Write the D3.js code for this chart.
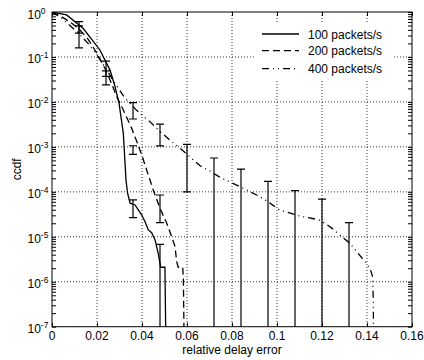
<!DOCTYPE html>
<html>
<head>
<meta charset="utf-8">
<script src="https://cdn.jsdelivr.net/npm/d3@7"></script>
<style>
  body { margin: 0; background: #fff; }
  svg { display: block; font-family: "Liberation Sans", Arial, sans-serif; }
  .grid line { stroke: #333; stroke-dasharray: 1,2; stroke-width: 1; }
  .curve { fill: none; stroke: #000; stroke-width: 1.3; }
  .err line { stroke: #000; stroke-width: 1.2; }
</style>
</head>
<body>
<div id="chart"></div>
<script>
// ccdf curves, [relative delay error, ccdf]
const series100 = [[0,1],[0.0065,0.86],[0.0139,0.43],[0.0213,0.143],[0.0258,0.051],[0.028,0.022],
  [0.0298,0.0093],[0.0317,2.0e-3],[0.0329,1.8e-4],[0.0336,9.3e-5],[0.0347,5.6e-5],[0.0369,5.1e-5],
  [0.0399,3.05e-5],[0.0413,2.2e-5],[0.0428,1.42e-5],[0.0443,1.23e-5],[0.0458,8.5e-6],[0.0472,4.3e-6],
  [0.0483,2.1e-6],[0.0502,2.1e-6],[0.051,1e-9]];
const series200 = [[0,1],[0.004,0.8],[0.008,0.6],[0.012,0.42],[0.016,0.25],[0.02,0.12],[0.024,0.05],
  [0.027,0.022],[0.0288,0.0129],[0.0317,6.6e-3],[0.0354,2.6e-3],[0.0376,1.35e-3],[0.0399,6.6e-4],
  [0.0428,2.37e-4],[0.045,1.1e-4],[0.048,4.3e-5],[0.051,2.0e-5],[0.0532,1.0e-5],[0.0547,6.0e-6],
  [0.0554,2.8e-6],[0.0561,2.1e-6],[0.0581,2.1e-6],[0.0584,1.1e-6],[0.0591,1e-9]];
const series400 = [[0,1],[0.004,0.75],[0.008,0.5],[0.012,0.33],[0.016,0.2],[0.02,0.11],[0.024,0.055],
  [0.0275,0.028],[0.0295,0.02],[0.0325,0.012],[0.0347,0.0095],[0.0376,6.5e-3],[0.0436,3.6e-3],
  [0.048,2.2e-3],[0.0524,1.42e-3],[0.0569,9.3e-4],[0.0613,6.0e-4],[0.0658,3.8e-4],[0.0702,2.9e-4],
  [0.0747,2.1e-4],[0.0836,1.3e-4],[0.0924,7.8e-5],[0.0969,5.6e-5],[0.1013,3.9e-5],[0.1102,2.9e-5],
  [0.1184,2.4e-5],[0.1213,2.0e-5],[0.125,1.47e-5],[0.1288,1.0e-5],[0.1324,7.2e-6],[0.1354,4.7e-6],
  [0.1391,2.8e-6],[0.1413,2.0e-6],[0.1425,1.3e-6],[0.1428,3.9e-7],[0.1431,1e-9]];

// error bars
const errX  = [0.012, 0.012, 0.024, 0.024, 0.036, 0.036, 0.036, 0.048, 0.048, 0.048, 0.06,
               0.072, 0.084, 0.096, 0.108, 0.12, 0.132];
const errLo = [0.34, 0.16, 0.037, 0.024, 4.17e-3, 6.8e-4, 2.66e-5, 1.05e-3, 2.06e-5, 1e-9, 1.0e-4,
               1e-9, 1e-9, 1e-9, 1e-9, 1e-9, 1e-9];
const errHi = [0.61, 0.49, 0.081, 0.049, 9.6e-3, 1.06e-3, 6.6e-5, 3.2e-3, 8.5e-5, 6.8e-6, 1.14e-3,
               5.66e-4, 3.2e-4, 1.71e-4, 1.06e-4, 6.9e-5, 2.06e-5];

const legendLabels = ["100 packets/s", "200 packets/s", "400 packets/s"];
const dashes = [null, "7,4", "7,4,1,4,1,4"];
const xTicks = [0, 0.02, 0.04, 0.06, 0.08, 0.1, 0.12, 0.14, 0.16];
const yExps = [0, -1, -2, -3, -4, -5, -6, -7];

const width = 424, height = 360;
const pLeft = 52, pRight = 412, pTop = 12, pBottom = 326.7;

const svg = d3.select("#chart").append("svg")
  .attr("width", width).attr("height", height);

const x = d3.scaleLinear().domain([0, 0.16]).range([pLeft, pRight]);
const y = d3.scaleLog().domain([1e-7, 1]).range([pBottom, pTop]);

svg.append("clipPath").attr("id", "clip")
  .append("rect").attr("x", pLeft).attr("y", pTop)
  .attr("width", pRight - pLeft).attr("height", pBottom - pTop);

// grid
const grid = svg.append("g").attr("class", "grid");
grid.selectAll(".gx").data(xTicks.slice(1, -1)).join("line")
  .attr("x1", d => x(d)).attr("x2", d => x(d))
  .attr("y1", pTop).attr("y2", pBottom);
grid.selectAll(".gy").data(yExps.slice(1, -1)).join("line")
  .attr("y1", d => y(Math.pow(10, d))).attr("y2", d => y(Math.pow(10, d)))
  .attr("x1", pLeft).attr("x2", pRight);

// legend background hides grid
svg.append("rect").attr("x", 255).attr("y", 22).attr("width", 137).attr("height", 58)
  .attr("fill", "#fff");

// axes (ticks inward)
const tickFmt = () => "";
svg.append("g").attr("transform", `translate(${pLeft},0)`)
  .call(d3.axisRight(y).tickSize(4).tickFormat(tickFmt));
svg.append("g").attr("transform", `translate(${pRight},0)`)
  .call(d3.axisLeft(y).tickSize(4).tickFormat(tickFmt));
svg.append("g").attr("transform", `translate(0,${pBottom})`)
  .call(d3.axisTop(x).tickValues(xTicks).tickSize(4).tickFormat(tickFmt));
svg.append("g").attr("transform", `translate(0,${pTop})`)
  .call(d3.axisBottom(x).tickValues(xTicks).tickSize(4).tickFormat(tickFmt));
svg.selectAll(".domain").remove();
svg.selectAll(".tick line").attr("stroke", "#000");

// frame
svg.append("rect").attr("x", pLeft).attr("y", pTop)
  .attr("width", pRight - pLeft).attr("height", pBottom - pTop)
  .attr("fill", "none").attr("stroke", "#000").attr("stroke-width", 1);

// tick labels
svg.append("g").selectAll("text").data(xTicks).join("text")
  .attr("x", d => x(d)).attr("y", 339.5)
  .attr("text-anchor", "middle").attr("font-size", 12)
  .text(d => d3.format("")(d));

const yl = svg.append("g").selectAll("text").data(yExps).join("text")
  .attr("x", 27.5).attr("y", d => y(Math.pow(10, d)) + 6.5)
  .attr("font-size", 12);
yl.append("tspan").text("10");
yl.append("tspan").attr("font-size", 8.5).attr("dy", -5).text(d => d);

svg.append("text").attr("x", (pLeft + pRight) / 2).attr("y", 354)
  .attr("text-anchor", "middle").attr("font-size", 12).text("relative delay error");
svg.append("text").attr("transform", `translate(21,${(pTop + pBottom) / 2}) rotate(-90)`)
  .attr("text-anchor", "middle").attr("font-size", 12).text("ccdf");

// curves
const plot = svg.append("g").attr("clip-path", "url(#clip)");
const line = d3.line().x(d => x(d[0])).y(d => y(d[1]));
[series100, series200, series400].forEach((s, i) => {
  plot.append("path").datum(s).attr("class", "curve")
    .attr("d", line).attr("stroke-dasharray", dashes[i]);
});

// error bars
const err = plot.append("g").attr("class", "err");
errX.forEach((v, i) => {
  err.append("line").attr("x1", x(v)).attr("x2", x(v))
    .attr("y1", y(errLo[i])).attr("y2", y(errHi[i]));
  err.append("line").attr("x1", x(v) - 4).attr("x2", x(v) + 4)
    .attr("y1", y(errHi[i])).attr("y2", y(errHi[i]));
  if (errLo[i] >= 1e-7) {
    err.append("line").attr("x1", x(v) - 4).attr("x2", x(v) + 4)
      .attr("y1", y(errLo[i])).attr("y2", y(errLo[i]));
  }
});

// legend
const leg = svg.append("g");
legendLabels.forEach((t, i) => {
  const ly = [34, 50.7, 68.7][i];
  leg.append("line").attr("x1", 262).attr("x2", 299).attr("y1", ly).attr("y2", ly)
    .attr("stroke", "#000").attr("stroke-width", 1.3).attr("stroke-dasharray", dashes[i]);
  leg.append("text").attr("x", 308).attr("y", ly + 4.5).attr("font-size", 12).text(t);
});
</script>
</body>
</html>
